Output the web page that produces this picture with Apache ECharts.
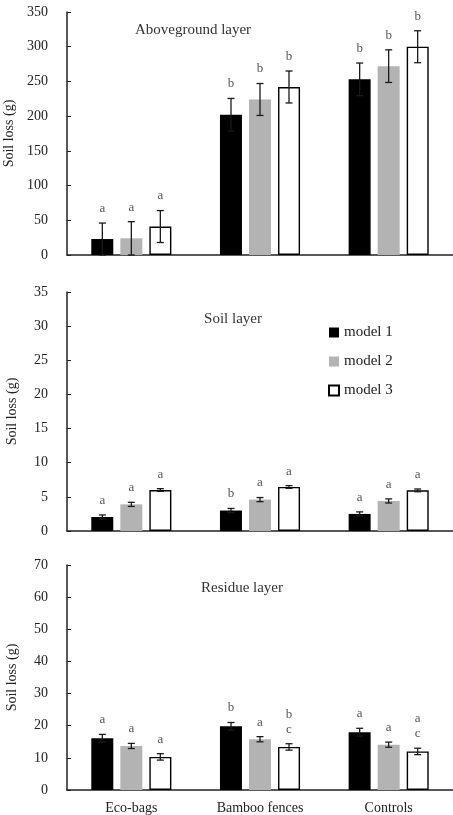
<!DOCTYPE html>
<html>
<head>
<meta charset="utf-8">
<script src="https://cdn.jsdelivr.net/npm/echarts@6/dist/echarts.min.js"></script>
<style>
  html, body { margin: 0; padding: 0; background: #fff; }
  #chart { width: 453px; height: 815px; }
</style>
</head>
<body>
<div id="chart"></div>
<script>
// categories and series
const categories = ['Eco-bags', 'Bamboo fences', 'Controls']
const models = ['model 1', 'model 2', 'model 3']

// aboveground layer
const aboveM1 = [23, 202, 253]
const aboveM2 = [24, 224, 272]
const aboveM3 = [41, 242, 300]
const aboveErr1 = [23, 23.5, 23.5]
const aboveErr2 = [24, 23, 23.5]
const aboveErr3 = [23, 23, 23]
const aboveLet1 = ['a', 'b', 'b']
const aboveLet2 = ['a', 'b', 'b']
const aboveLet3 = ['a', 'b', 'b']

// soil layer
const soilM1 = [2.05, 3.0, 2.5]
const soilM2 = [3.9, 4.6, 4.4]
const soilM3 = [6.0, 6.45, 5.95]
const soilErr1 = [0.3, 0.3, 0.3]
const soilErr2 = [0.3, 0.3, 0.3]
const soilErr3 = [0.2, 0.2, 0.2]
const soilLet1 = ['a', 'b', 'a']
const soilLet2 = ['a', 'a', 'a']
const soilLet3 = ['a', 'a', 'a']

// residue layer
const resM1 = [16.1, 19.8, 18.0]
const resM2 = [13.7, 15.8, 14.1]
const resM3 = [10.3, 13.4, 12.0]
const resErr1 = [1.2, 1.2, 1.2]
const resErr2 = [0.8, 0.8, 0.8]
const resErr3 = [1.0, 1.0, 1.0]
const resLet1 = ['a', 'b', 'a']
const resLet2 = ['a', 'a', 'a']
const resLet3 = ['a', 'b\nc', 'a\nc']

// axis ranges
const yMax = [350, 35, 70]
const yInterval = [50, 5, 10]

const serif = '"Liberation Serif", "DejaVu Serif", serif'
const barW = 22
const gapW = 7
const colors = ['#000000', '#b3b3b3', '#ffffff']

const panels = [
  { vals: [aboveM1, aboveM2, aboveM3], errs: [aboveErr1, aboveErr2, aboveErr3], lets: [aboveLet1, aboveLet2, aboveLet3] },
  { vals: [soilM1, soilM2, soilM3], errs: [soilErr1, soilErr2, soilErr3], lets: [soilLet1, soilLet2, soilLet3] },
  { vals: [resM1, resM2, resM3], errs: [resErr1, resErr2, resErr3], lets: [resLet1, resLet2, resLet3] }
]

function errRenderer(offset, letters) {
  return function(params, api) {
    const x = api.coord([api.value(0), 0])[0] + offset
    const v = api.value(1)
    const e = api.value(2)
    const yTop = api.coord([api.value(0), v + e])[1]
    const yBot = api.coord([api.value(0), v - e])[1]
    const cap = 3.5
    const style = { stroke: '#1a1a1a', lineWidth: 1.3 }
    return {
      type: 'group',
      children: [
        { type: 'line', shape: { x1: x, y1: yTop, x2: x, y2: yBot }, style },
        { type: 'line', shape: { x1: x - cap, y1: yTop, x2: x + cap, y2: yTop }, style },
        { type: 'line', shape: { x1: x - cap, y1: yBot, x2: x + cap, y2: yBot }, style },
        {
          type: 'text',
          style: {
            x: x, y: yTop - 7,
            text: letters[params.dataIndex],
            fill: '#555',
            font: '13px ' + serif,
            align: 'center',
            verticalAlign: 'bottom',
            lineHeight: 15
          }
        }
      ]
    }
  }
}

const grids = [
  { left: 67, right: 0, top: 12, height: 243, outerBoundsMode: 'none' },
  { left: 67, right: 0, top: 292, height: 239, outerBoundsMode: 'none' },
  { left: 67, right: 0, top: 565, height: 225, outerBoundsMode: 'none' }
]

const xAxes = grids.map((g, i) => ({
  type: 'category',
  gridIndex: i,
  data: categories,
  axisLine: { lineStyle: { color: '#222', width: 1.5 } },
  axisTick: { show: false },
  axisLabel: {
    show: i === 2,
    color: '#222',
    fontFamily: serif,
    fontSize: 14,
    margin: 11
  }
}))

const yAxes = grids.map((g, i) => ({
  type: 'value',
  gridIndex: i,
  min: 0,
  max: yMax[i],
  interval: yInterval[i],
  name: 'Soil loss (g)',
  nameLocation: 'middle',
  nameGap: 48,
  nameTextStyle: { color: '#222', fontFamily: serif, fontSize: 14 },
  axisLine: { show: true, lineStyle: { color: '#222', width: 1.5 } },
  axisTick: { show: true, inside: true, length: 4, lineStyle: { color: '#222' } },
  axisLabel: { color: '#222', fontFamily: serif, fontSize: 14, margin: 19 },
  splitLine: { show: false }
}))

const series = []
panels.forEach((p, gi) => {
  p.vals.forEach((vals, mi) => {
    series.push({
      name: models[mi],
      type: 'bar',
      xAxisIndex: gi,
      yAxisIndex: gi,
      data: vals,
      barWidth: barW,
      barGap: Math.round(gapW / barW * 100) + '%',
      itemStyle: {
        color: colors[mi],
        borderColor: mi === 2 ? '#000' : colors[mi],
        borderWidth: mi === 2 ? 1.4 : 0
      },
      animation: false
    })
  })
  p.vals.forEach((vals, mi) => {
    series.push({
      type: 'custom',
      xAxisIndex: gi,
      yAxisIndex: gi,
      data: vals.map((v, ci) => [ci, v, p.errs[mi][ci]]),
      renderItem: errRenderer((mi - 1) * (barW + gapW), p.lets[mi]),
      z: 5,
      silent: true,
      animation: false
    })
  })
})

const chart = echarts.init(document.getElementById('chart'))
chart.setOption({
  backgroundColor: '#fff',
  animation: false,
  grid: grids,
  xAxis: xAxes,
  yAxis: yAxes,
  legend: {
    data: models,
    orient: 'vertical',
    left: 328,
    top: 325,
    padding: 0,
    itemWidth: 10,
    itemHeight: 10,
    itemGap: 14,
    icon: 'rect',
    textStyle: { color: '#222', fontFamily: serif, fontSize: 15 }
  },
  graphic: [
    { type: 'text', x: 193, y: 30, style: { text: 'Aboveground layer', fill: '#333', font: '15px ' + serif, align: 'center', verticalAlign: 'middle' } },
    { type: 'text', x: 233, y: 319, style: { text: 'Soil layer', fill: '#333', font: '15px ' + serif, align: 'center', verticalAlign: 'middle' } },
    { type: 'text', x: 242, y: 588, style: { text: 'Residue layer', fill: '#333', font: '15px ' + serif, align: 'center', verticalAlign: 'middle' } }
  ],
  series
})
</script>
</body>
</html>
